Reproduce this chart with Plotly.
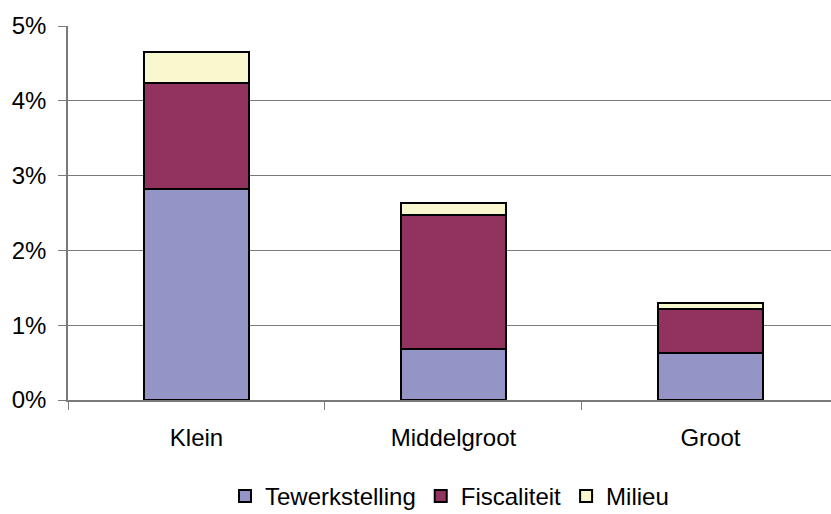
import plotly.graph_objects as go

categories = ["Klein", "Middelgroot", "Groot"]
tewerkstelling = [2.82, 0.68, 0.63]
fiscaliteit = [1.42, 1.79, 0.58]
milieu = [0.41, 0.16, 0.09]
y_ticks = [0, 1, 2, 3, 4, 5]
y_tick_labels = ["0%", "1%", "2%", "3%", "4%", "5%"]

series = [
    ("Tewerkstelling", tewerkstelling, "#9494C6"),
    ("Fiscaliteit", fiscaliteit, "#92325E"),
    ("Milieu", milieu, "#F9F7CE"),
]

fig = go.Figure()
for name, vals, color in series:
    fig.add_trace(go.Bar(
        x=categories, y=vals, name=name,
        marker=dict(color=color, line=dict(color="black", width=2)),
    ))

font = "Liberation Sans, Arial, sans-serif"
fig.update_layout(
    barmode="stack",
    bargap=0.595,
    width=831, height=514,
    margin=dict(l=68, r=0, t=26, b=114, autoexpand=False),
    paper_bgcolor="white",
    plot_bgcolor="white",
    font=dict(family=font, size=24, color="black"),
    showlegend=True,
    legend=dict(
        orientation="h", x=0.5, xanchor="center", y=-0.258, yanchor="middle",
        font=dict(size=24), itemwidth=30, tracegroupgap=0,
        traceorder="normal",
    ),
)
fig.update_xaxes(
    type="category",
    range=[-0.5, 2.469],
    showline=True, linecolor="#7a7a7a", linewidth=1.5,
    ticks="outside", tickson="boundaries", ticklen=8, tickcolor="#7a7a7a", tickwidth=1,
    ticklabelstandoff=15,
    showgrid=False,
)
fig.update_yaxes(
    range=[0, 5],
    tickvals=y_ticks, ticktext=y_tick_labels,
    showline=True, linecolor="#7a7a7a", linewidth=1.5,
    ticks="outside", ticklen=8, tickcolor="#7a7a7a", tickwidth=1,
    showgrid=True, gridcolor="#7a7a7a", gridwidth=1.3,
    zeroline=False,
    ticklabelstandoff=7,
)

fig.write_html("out.html", config={"displayModeBar": False},
               post_script="document.body.style.margin='0';")
